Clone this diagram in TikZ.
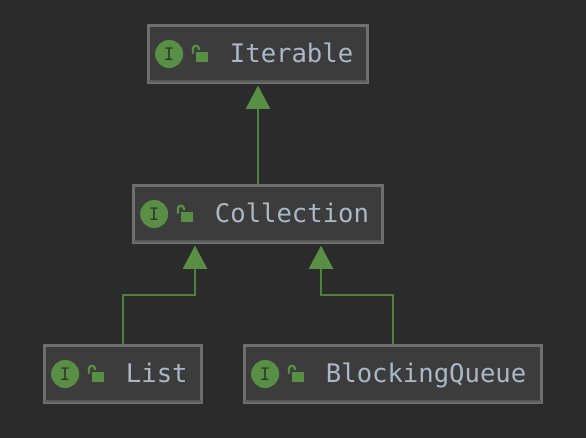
\documentclass[tikz,border=0pt]{standalone}
\usepackage{fontspec}
\setmonofont{DejaVu Sans Mono}
\usetikzlibrary{arrows.meta,positioning,calc}
\definecolor{bgdark}{RGB}{43,43,43}
\definecolor{boxfill}{RGB}{60,60,60}
\definecolor{boxline}{RGB}{110,110,110}
\definecolor{boxshade}{RGB}{88,88,88}
\definecolor{cgreen}{RGB}{89,143,69}
\definecolor{clink}{RGB}{78,128,62}
\definecolor{ctext}{RGB}{169,183,198}
\definecolor{cglyph}{RGB}{48,56,46}
\tikzset{
  clsbox/.style={draw=boxline, fill=boxfill, line width=2pt, inner sep=0pt, minimum height=43pt},
  ifacebadge/.style={circle, fill=cgreen, inner sep=0pt, minimum size=21pt,
              font=\ttfamily\fontsize{13pt}{13pt}\selectfont, text=cglyph},
  lockbody/.style={fill=cgreen, inner sep=0pt, minimum width=9pt, minimum height=7.5pt},
  clsname/.style={font=\ttfamily\fontsize{19.2pt}{20pt}\selectfont, text=ctext, inner sep=0pt, anchor=base west},
  inherit/.style={-{Triangle[length=17.5pt, width=18pt, color=cgreen]}, clink, line width=2pt, shorten >=1.2pt},
}
\begin{document}
\begin{tikzpicture}[x=0.75pt, y=-0.75pt]
    \useasboundingbox[fill=bgdark] (0,0) rectangle (586,438);
    \foreach \nm/\cx/\cy/\bw/\txt in {iterable/258/54/219.0/Iterable, collection/258/214/249.0/Collection,
        list/123/374/157.0/List, queue/393/374/297.0/BlockingQueue}{
      \pgfmathsetmacro{\boxw}{\bw*0.75}
      \node[clsbox, minimum width=\boxw pt] (\nm) at (\cx,\cy) {};
      \fill[boxshade] ($(\nm.south west)+(2,-3.5)$) rectangle ($(\nm.south east)+(-2,-1.5)$);
      \node[ifacebadge] (\nm-badge) at ($(\nm.west)+(22,0)$) {I};
      \node[lockbody] (\nm-lock) at ($(\nm.west)+(54.5,3)$) {};
      \draw[cgreen, line width=1.7pt] ($(\nm-lock.north west)+(-2.5,2)$) -- +(0,-5) arc[start angle=180, end angle=360, radius=3] -- +(0,1.5);
      \node[clsname] (\nm-name) at ($(\nm.west)+(82.5,9)$) {\txt};
    }
    \coordinate (portl) at ($(collection.south)+(-63,0)$);
    \coordinate (portr) at ($(collection.south)+(63,0)$);
    \coordinate (bendl) at ($(portl)+(0,51)$);
    \coordinate (bendr) at ($(portr)+(0,51)$);
    \draw[inherit] (collection) -- (iterable);
    \draw[inherit] (list.north) |- (bendl) -- (portl);
    \draw[inherit] (queue.north) |- (bendr) -- (portr);
\end{tikzpicture}
\end{document}
